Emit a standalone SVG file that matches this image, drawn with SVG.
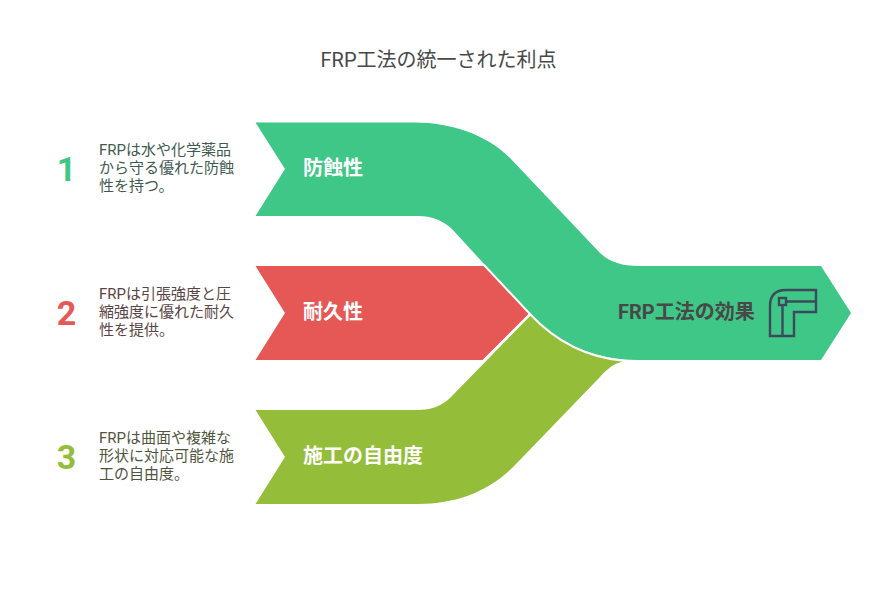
<svg xmlns="http://www.w3.org/2000/svg" width="879" height="602" viewBox="0 0 879 602">
<style>
text{font-family:Roboto,"Noto Sans CJK JP",sans-serif}
.t{font-size:20px;fill:#484848}
.l{font-size:20px;font-weight:700;fill:#fff}
.n{font-size:34px;font-weight:700;text-anchor:middle}
.d{font-size:15px}
.i{fill:none;stroke:#3d4a5c;stroke-width:2.4}
</style>
<rect width="879" height="602" fill="#fff"/>
<text class="t" x="438.5" y="67" text-anchor="middle">FRP工法の統一された利点</text>
<g id="connectors">
<path id="band-red" fill="#e65855" d="M255.5 266H485L530 313L485 360H255.5L285 313Z"/>
<path id="band-olive" fill="#94be39" d="M255.5 410H418C431 410 442 406 451 397L531 315C555 340 585 355 625 361C614 363 607 369 600 377L517 463C492 490 458 504 418 504H255.5L285 457Z"/>
<path id="band-green" fill="#3ec786" d="M255.5 122.500H415C450 122.500 486 134 510 158L600 253C610 262 622 266 638 266H821L851 313L821 360H638C595 360 558 344 530 314L452 229C442 220 432 216 418 216H255.500L285 169Z"/>
<path fill="none" stroke="#fff" stroke-width="2" d="M484 265L530 314C558 344 590 358 625 361M530 314L483 361"/>
</g>
<g id="node-1">
<text class="n" x="66.500" y="181" fill="#3ec786">1</text>
<text class="d" fill="#3f5a50"><tspan x="99" y="155">FRPは水や化学薬品</tspan><tspan x="99" y="173">から守る優れた防蝕</tspan><tspan x="99" y="191">性を持つ。</tspan></text>
<text class="l" x="303" y="175">防蝕性</text>
</g>
<g id="node-2">
<text class="n" x="66.500" y="325" fill="#e65855">2</text>
<text class="d" fill="#5a4444"><tspan x="99" y="299">FRPは引張強度と圧</tspan><tspan x="99" y="317">縮強度に優れた耐久</tspan><tspan x="99" y="335">性を提供。</tspan></text>
<text class="l" x="303" y="319">耐久性</text>
</g>
<g id="node-3">
<text class="n" x="66.500" y="469" fill="#94be39">3</text>
<text class="d" fill="#50553f"><tspan x="99" y="443">FRPは曲面や複雑な</tspan><tspan x="99" y="461">形状に対応可能な施</tspan><tspan x="99" y="479">工の自由度。</tspan></text>
<text class="l" x="303" y="463">施工の自由度</text>
</g>
<g id="node-result">
<text x="618" y="319" font-size="20" font-weight="700" fill="#484848">FRP工法の効果</text>
<g class="i">
<path d="M770 336V306Q770 290 786 290H816V312H794V336Z"/>
<rect x="779" y="298" width="7" height="7"/>
<path d="M786 301.500H816M782.500 305V336"/>
</g>
</g>
</svg>
